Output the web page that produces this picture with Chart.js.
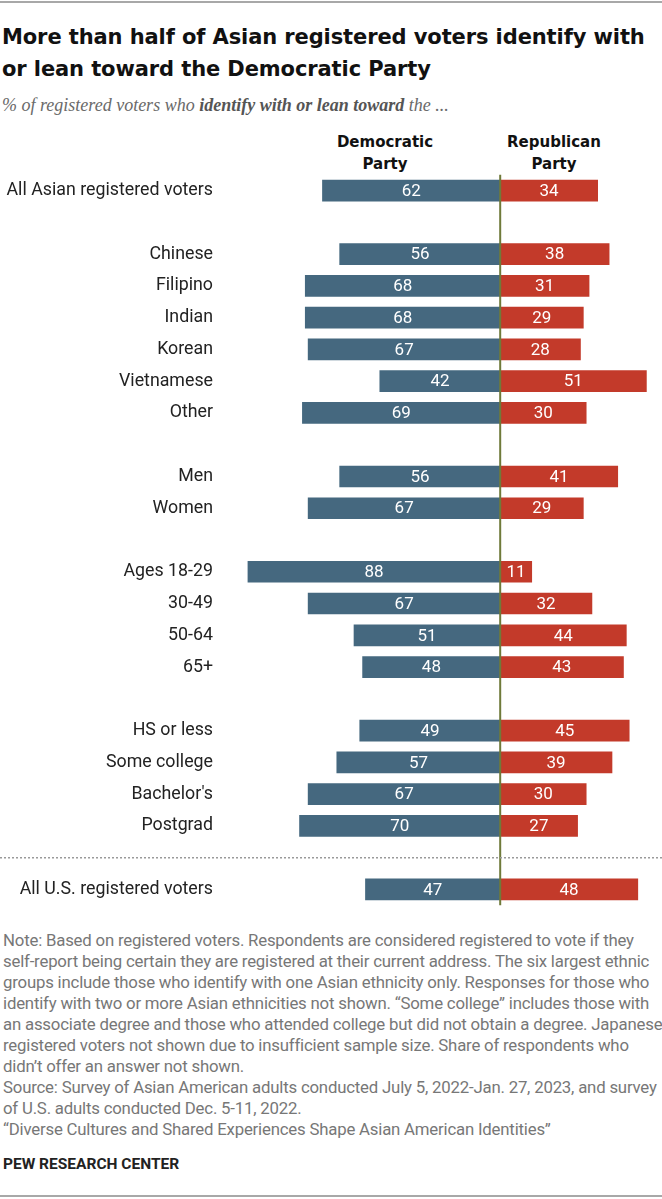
<!DOCTYPE html>
<html>
<head>
<meta charset="utf-8">
<script src="https://cdn.jsdelivr.net/npm/chart.js@4.4.0/dist/chart.umd.min.js"></script>
<style>
  body { margin: 0; background: #fff; }
  #page { position: relative; width: 662px; height: 1199px; overflow: hidden; font-family: Roboto, "Liberation Sans", sans-serif; }
  .rule { position: absolute; left: 0; width: 662px; height: 2px; background: #a8a8a8; }
  #title { position: absolute; left: 2px; top: 21px; font-family: "DejaVu Sans", sans-serif; font-weight: bold; font-size: 21px; line-height: 32px; color: #111; white-space: nowrap; letter-spacing: -0.1px; }
  #subtitle { position: absolute; left: 2px; top: 95px; font-family: "Liberation Serif", serif; font-style: italic; font-size: 18px; color: #6a6a6a; white-space: nowrap; }
  #subtitle b { color: #555; }
  .head { position: absolute; top: 131px; width: 120px; text-align: center; font-family: "DejaVu Sans", sans-serif; font-weight: bold; font-size: 15px; line-height: 22px; color: #111; }
  #chartBox { position: absolute; left: 0; top: 152px; width: 662px; height: 776px; }
  #notes { position: absolute; left: 3px; top: 930px; font-size: 16.8px; line-height: 21px; color: #777; white-space: nowrap; letter-spacing: -0.2px; }
  #brand { position: absolute; left: 3px; top: 1155px; font-family: Roboto, sans-serif; font-weight: bold; font-size: 15.5px; color: #222; }
</style>
</head>
<body>
<div id="page">
  <div class="rule" style="top:1px"></div>
  <div id="title">More than half of Asian registered voters identify with<br>or lean toward the Democratic Party</div>
  <div id="subtitle">% of registered voters who <b>identify with or lean toward</b> the ...</div>
  <div class="head" style="left:325px">Democratic<br>Party</div>
  <div class="head" style="left:494px">Republican<br>Party</div>
  <div id="chartBox"><canvas id="chart"></canvas></div>
  <div id="notes">Note: Based on registered voters. Respondents are considered registered to vote if they<br>self-report being certain they are registered at their current address. The six largest ethnic<br>groups include those who identify with one Asian ethnicity only. Responses for those who<br>identify with two or more Asian ethnicities not shown. “Some college” includes those with<br>an associate degree and those who attended college but did not obtain a degree. Japanese<br>registered voters not shown due to insufficient sample size. Share of respondents who<br>didn’t offer an answer not shown.<br>Source: Survey of Asian American adults conducted July 5, 2022-Jan. 27, 2023, and survey<br>of U.S. adults conducted Dec. 5-11, 2022.<br>“Diverse Cultures and Shared Experiences Shape Asian American Identities”</div>
  <div id="brand">PEW RESEARCH CENTER</div>
  <div class="rule" style="top:1195px"></div>
</div>
<script>
// empty strings are spacer rows between the groups
const categories = [
  'All Asian registered voters', '',
  'Chinese', 'Filipino', 'Indian', 'Korean', 'Vietnamese', 'Other', '',
  'Men', 'Women', '',
  'Ages 18-29', '30-49', '50-64', '65+', '',
  'HS or less', 'Some college', "Bachelor's", 'Postgrad', '',
  'All U.S. registered voters'
];
const demValues = [62, null, 56, 68, 68, 67, 42, 69, null, 56, 67, null, 88, 67, 51, 48, null, 49, 57, 67, 70, null, 47];
const repValues = [34, null, 38, 31, 29, 28, 51, 30, null, 41, 29, null, 11, 32, 44, 43, null, 45, 39, 30, 27, null, 48];

const DEM_COLOR = '#45687f';
const REP_COLOR = '#c33a2a';

// value labels inside the bars
const valueLabels = {
  id: 'valueLabels',
  afterDatasetsDraw(chart) {
    const ctx = chart.ctx;
    ctx.save();
    ctx.fillStyle = '#fff';
    ctx.font = '17px Roboto, sans-serif';
    ctx.textAlign = 'center';
    ctx.textBaseline = 'middle';
    chart.data.datasets.forEach((ds, di) => {
      chart.getDatasetMeta(di).data.forEach((bar, i) => {
        const v = ds.data[i];
        if (v == null) return;
        const mid = (bar.x + bar.base) / 2;
        ctx.fillText(String(Math.abs(v)), mid, bar.y + 1);
      });
    });
    ctx.restore();
  }
};

// zero line and dotted divider before the all-U.S. row
const guides = {
  id: 'guides',
  afterDatasetsDraw(chart) {
    const ctx = chart.ctx;
    const x0 = chart.scales.x.getPixelForValue(0);
    const area = chart.chartArea;
    ctx.save();
    ctx.strokeStyle = '#6f7a3a';
    ctx.lineWidth = 2;
    ctx.beginPath();
    ctx.moveTo(x0, area.top);
    ctx.lineTo(x0, area.bottom);
    ctx.stroke();

    const yDiv = chart.scales.y.getPixelForValue(categories.length - 2);
    ctx.strokeStyle = '#9a9a9a';
    ctx.lineWidth = 1.5;
    ctx.setLineDash([2, 2]);
    ctx.beginPath();
    ctx.moveTo(0, yDiv);
    ctx.lineTo(chart.width, yDiv);
    ctx.stroke();
    ctx.restore();
  }
};

new Chart(document.getElementById('chart'), {
  type: 'bar',
  data: {
    labels: categories,
    datasets: [
      { label: 'Democratic Party', data: demValues.map(v => v == null ? null : -v), backgroundColor: DEM_COLOR },
      { label: 'Republican Party', data: repValues, backgroundColor: REP_COLOR }
    ]
  },
  options: {
    indexAxis: 'y',
    responsive: true,
    maintainAspectRatio: false,
    animation: false,
    barThickness: 21,
    layout: { padding: { left: 0, right: 7, top: 0, bottom: 0 } },
    plugins: { legend: { display: false }, tooltip: { enabled: false } },
    scales: {
      x: { display: false, stacked: true, min: -96, max: 54 },
      y: {
        stacked: true,
        grid: { display: false, drawTicks: false },
        border: { display: false },
        ticks: { color: '#222', font: { family: 'Roboto', size: 17.8 }, padding: 12, autoSkip: false },
        afterFit(scale) { scale.width = 225; }
      }
    }
  },
  plugins: [valueLabels, guides]
});
</script>
</body>
</html>
